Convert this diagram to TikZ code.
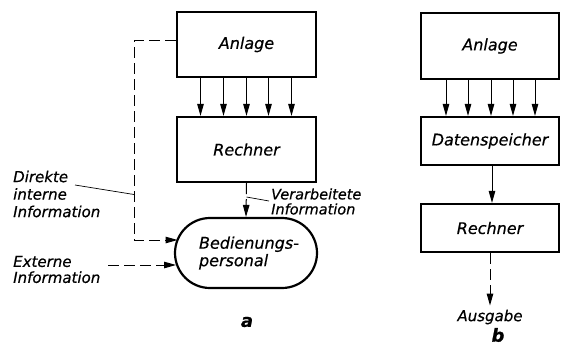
\documentclass[tikz,border=0pt]{standalone}
\usepackage{fontspec}
\setmainfont{DejaVu Sans}[FakeBold=0.5]
\usetikzlibrary{arrows.meta}
\begin{document}
\begin{tikzpicture}[x=1pt,y=-1pt,
  box/.style={draw,line width=2.2pt,inner sep=0pt,font=\fontsize{16}{17.5}\selectfont\itshape},
  lbl/.style={font=\fontsize{15}{17.5}\selectfont\itshape,inner sep=0pt,align=left},
  lblsmall/.style={font=\fontsize{14.5}{15}\selectfont\itshape,inner sep=0pt,align=left},
  caplbl/.style={font=\fontsize{18}{18}\selectfont\bfseries\itshape,inner sep=0pt},
  flow/.style={line width=1pt,-{Triangle[length=12pt,width=6.5pt]}},
  dsh/.style={dash pattern=on 11pt off 5pt},
  leader/.style={line width=0.7pt}
]
\useasboundingbox (0,0) rectangle (561,345);

% ---------- part a ----------
\node[box,minimum width=139pt,minimum height=65pt] (anlA) at (246.5,44.5) {Anlage};
\node[box,minimum width=139pt,minimum height=65pt] (rechA) at (246.5,149.5) {Rechner};
\node[box,minimum width=142pt,minimum height=70pt,rounded corners=35pt,align=left]
  (pers) at (246,253) {\hspace*{6pt}Bedienungs-\\\hspace*{6pt}personal};

\foreach \dx in {-46,-23,0,22,45}
  \draw[flow] ([xshift=\dx pt]anlA.south) -- ([xshift=\dx pt]rechA.north);

\draw[flow,dsh] (rechA.south) -- (pers.north);

\coordinate (fbk) at (134,41);
\coordinate (fbin) at (177.5,240);
\draw[flow,dsh] (anlA.west |- fbk) -- (fbk) |- (fbin);

\coordinate (extout) at (108,265);
\coordinate (extin) at (176,265);
\draw[flow,dsh] (extout) -- (extin);

\node[lbl,anchor=west] (dir) at (13,194) {Direkte\\interne\\Information};
\node[lbl,anchor=west,font=\fontsize{15}{16}\selectfont\itshape] (ext) at (13,269.5) {Externe\\Information};
\node[lblsmall,anchor=west] (verarb) at (271,201.5) {Verarbeitete\\Information};

\coordinate (dirL) at (75,185);
\coordinate (dirJ) at (134,194.5);
\draw[leader] (dirL) -- (dirJ);
\coordinate (vJ) at (246.5,197);
\coordinate (vL) at (269,201);
\draw[leader] (vJ) -- (vL);

\node[caplbl] (capa) at (247,322) {a};

% ---------- part b ----------
\node[box,minimum width=138pt,minimum height=66pt] (anlB) at (490,46) {Anlage};
\node[box,minimum width=138pt,minimum height=48pt] (datB) at (490,141) {Datenspeicher};
\node[box,minimum width=138pt,minimum height=48pt] (rechB) at (490,228) {Rechner};
\node[lbl,inner ysep=4pt] (ausg) at (490,317) {Ausgabe};

\foreach \dx in {-44,-22,1,23,45}
  \draw[flow] ([xshift=\dx pt]anlB.south) -- ([xshift=\dx pt]datB.north);
\draw[flow] ([xshift=2pt]datB.south) -- ([xshift=2pt]rechB.north);
\draw[flow,dsh] (rechB.south) -- (ausg.north);

\node[caplbl] (capb) at (498,335) {b};
\end{tikzpicture}
\end{document}
